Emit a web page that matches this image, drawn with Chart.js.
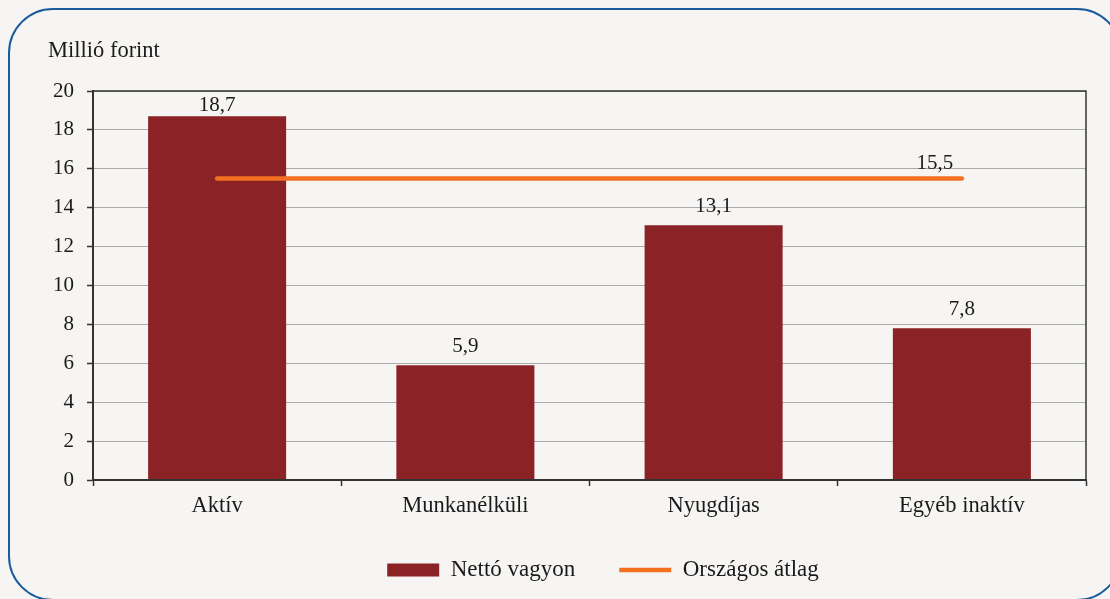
<!DOCTYPE html>
<html lang="hu">
<head>
    <meta charset="UTF-8">
    <title>Nettó vagyon</title>
    <style>
        body {
            margin: 0;
            width: 1110px;
            height: 599px;
            overflow: hidden;
            background-color: #f6f5f3;
            position: relative;
        }
        #frame {
            position: absolute;
            left: 8px;
            top: 8px;
            width: 1110px;
            height: 589px;
            border: 2px solid #1b5b9c;
            border-radius: 45px;
        }
        #wrap {
            position: absolute;
            left: 0;
            top: 0;
            width: 1110px;
            height: 599px;
        }
    </style>
    <script src="https://cdn.jsdelivr.net/npm/chart.js"></script>
</head>
<body>
    <div id="frame"></div>
    <div id="wrap"><canvas id="chart"></canvas></div>

    <script>
        const categories = ['Aktív', 'Munkanélküli', 'Nyugdíjas', 'Egyéb inaktív'];
        const nettoVagyon = [18.7, 5.9, 13.1, 7.8];
        const orszagosAtlag = [15.5, 15.5, 15.5, 15.5];
        const yTicks = [0, 2, 4, 6, 8, 10, 12, 14, 16, 18, 20];

        const textColor = '#1a1a1a';
        const serif = '"Liberation Serif", "DejaVu Serif", serif';
        const legendFont = 23;
        const legendPad = 44;

        function fmt(v) {
            return v.toFixed(1).replace('.', ',');
        }

        // value labels, the unit text and the dark frame round the plot
        const extras = {
            id: 'extras',
            afterLayout(chart) {
                const lg = chart.legend;
                lg.left += 60;
                lg.right += 60;
                lg.top = 570 - legendPad - legendFont / 2;
            },
            afterDatasetsDraw(chart) {
                const ctx = chart.ctx;
                const area = chart.chartArea;
                ctx.save();
                ctx.fillStyle = textColor;
                ctx.font = '21px ' + serif;
                ctx.textAlign = 'center';
                ctx.textBaseline = 'middle';

                chart.getDatasetMeta(0).data.forEach((bar, i) => {
                    const y = Math.max(bar.y - 19, area.top + 14);
                    ctx.fillText(fmt(nettoVagyon[i]), bar.x, y);
                });
                const pts = chart.getDatasetMeta(1).data;
                const last = pts[pts.length - 1];
                ctx.fillText(fmt(orszagosAtlag[orszagosAtlag.length - 1]), last.x - 27, last.y - 15);

                ctx.textAlign = 'left';
                ctx.font = '22.5px ' + serif;
                ctx.fillText('Millió forint', 48, 51);

                ctx.strokeStyle = '#333';
                ctx.lineWidth = 1.5;
                ctx.strokeRect(area.left, area.top, area.right - area.left, area.bottom - area.top);
                ctx.lineWidth = 2;
                ctx.beginPath();
                ctx.moveTo(area.left, area.top);
                ctx.lineTo(area.left, area.bottom);
                ctx.lineTo(area.right, area.bottom);
                ctx.stroke();
                ctx.restore();
            }
        };

        Chart.defaults.font.family = serif;
        Chart.defaults.color = textColor;

        new Chart(document.getElementById('chart'), {
            type: 'bar',
            data: {
                labels: categories,
                datasets: [{
                    type: 'bar',
                    label: 'Nettó vagyon',
                    data: nettoVagyon,
                    backgroundColor: '#8b2326',
                    borderWidth: 0,
                    barPercentage: 0.556,
                    categoryPercentage: 1,
                    pointStyle: 'rect',
                    order: 2
                }, {
                    type: 'line',
                    label: 'Országos átlag',
                    data: orszagosAtlag,
                    borderColor: '#f37021',
                    backgroundColor: '#f37021',
                    borderWidth: 4.5,
                    borderCapStyle: 'round',
                    pointRadius: 0,
                    pointStyle: 'line',
                    order: 1
                }]
            },
            options: {
                responsive: true,
                maintainAspectRatio: false,
                animation: false,
                layout: {
                    padding: { left: 0, right: 24, top: 91, bottom: 0 }
                },
                plugins: {
                    tooltip: { enabled: false },
                    legend: {
                        position: 'bottom',
                        maxHeight: 59,
                        labels: {
                            usePointStyle: true,
                            pointStyleWidth: 52,
                            boxHeight: 13,
                            padding: legendPad,
                            font: { size: legendFont },
                            color: textColor,
                            sort: (a, b) => a.datasetIndex - b.datasetIndex
                        }
                    }
                },
                scales: {
                    x: {
                        offset: true,
                        grid: {
                            offset: true,
                            drawOnChartArea: false,
                            tickLength: 6,
                            tickColor: '#333',
                            tickWidth: 1.5
                        },
                        border: { color: '#333', width: 2 },
                        ticks: { padding: 7, font: { size: 22.5 }, color: textColor },
                        afterFit(scale) { scale.height = 60; }
                    },
                    y: {
                        min: 0,
                        max: 20,
                        afterBuildTicks(scale) {
                            scale.ticks = yTicks.map(v => ({ value: v }));
                        },
                        grid: {
                            color: '#ababab',
                            lineWidth: 1,
                            tickLength: 6,
                            tickColor: '#333',
                            tickWidth: 1.5
                        },
                        border: { color: '#333', width: 2 },
                        ticks: { padding: 13, font: { size: 21 }, color: textColor },
                        afterFit(scale) { scale.width = 93; }
                    }
                }
            },
            plugins: [extras]
        });
    </script>
</body>
</html>
